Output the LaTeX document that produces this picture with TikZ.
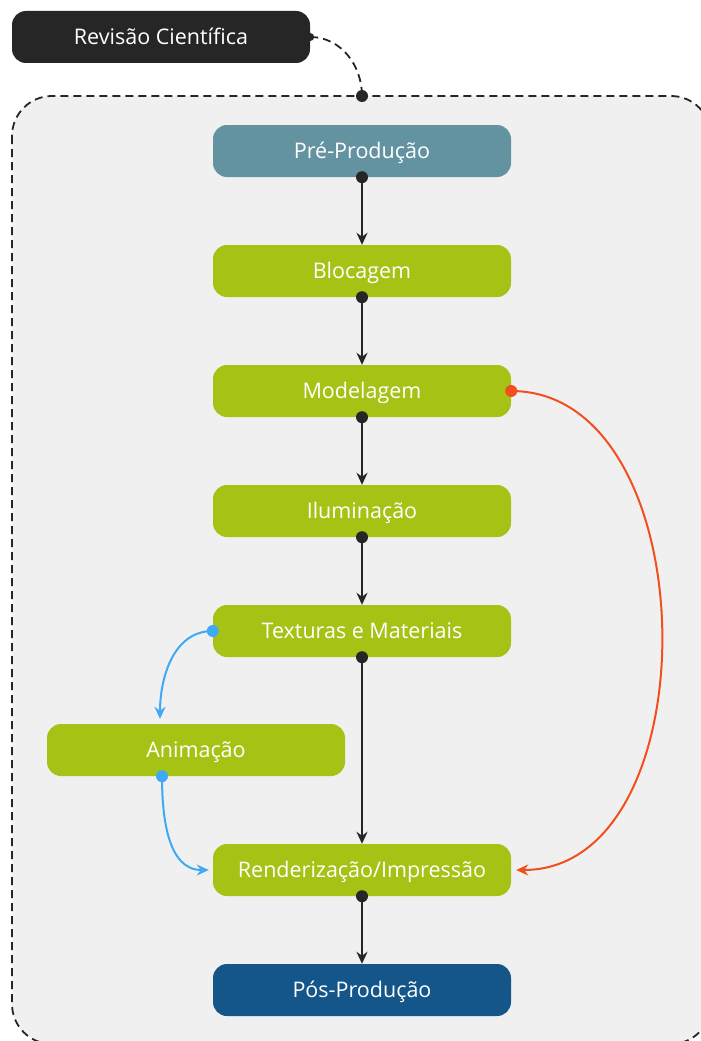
\documentclass[tikz,border=0pt]{standalone}
\usepackage{fontspec}
\setmainfont{Open Sans}
\usepackage{xcolor}
\usepackage{tikz}
\usetikzlibrary{calc,arrows.meta}
\definecolor{panel}{HTML}{F0F0F0}
\definecolor{ink}{HTML}{262626}
\definecolor{preblue}{HTML}{6393A0}
\definecolor{leaf}{HTML}{A6C215}
\definecolor{posblue}{HTML}{15568A}
\definecolor{hot}{HTML}{F24E1E}
\definecolor{sky}{HTML}{3FA9F5}
\tikzset{
  stage/.style={
    minimum width=298pt, minimum height=52pt, inner sep=0pt,
    rounded corners=14pt, text=white,
    text height=19pt, text depth=4pt,
    font=\fontsize{21.5}{24}\selectfont
  },
  flow/.style={draw=ink, line width=2pt, -{Stealth[length=12pt,width=11pt]}},
  loop/.style={line width=2pt, -{Stealth[length=12pt,width=11pt]}},
  frame/.style={draw=ink, line width=1.8pt, dash pattern=on 8pt off 5pt}
}

\begin{document}
\begin{tikzpicture}[x=1pt,y=-1pt]
  \useasboundingbox (0,0) rectangle (701,1041);
  \clip (0,0) rectangle (701,1041);
  \fill[white] (0,0) rectangle (701,1041);
  \draw[frame, fill=panel, rounded corners=40pt] (12,96) rectangle (711,1044);

  \node[stage, fill=ink] (rev) at (161,37) {Revisão Científica};
  \node[stage, fill=preblue] (pre) at (362,151) {Pré-Produção};
  \node[stage, fill=leaf] (bloc) at (362,271) {Blocagem};
  \node[stage, fill=leaf] (model) at (362,391) {Modelagem};
  \node[stage, fill=leaf] (ilum) at (362,511) {Iluminação};
  \node[stage, fill=leaf] (tex) at (362,631) {Texturas e Materiais};
  \node[stage, fill=leaf] (anim) at (196,750) {Animação};
  \node[stage, fill=leaf] (rend) at (362,870) {Renderização/Impressão};
  \node[stage, fill=posblue] (pos) at (362,990) {Pós-Produção};
  \coordinate (entry) at (362,96);

  \draw[frame] (rev.east) to[out=0,in=90] (entry);
  \fill[ink] (rev.east) circle (4pt);
  \fill[ink] (entry) circle (6pt);

  \foreach \a/\b in {pre/bloc,bloc/model,model/ilum,ilum/tex,tex/rend,rend/pos}{
    \draw[flow] (\a.south) -- (\b.north);
    \fill[ink] (\a.south) circle (6pt);
  }

  \draw[loop, draw=hot, fill=none] (model.east) to[out=0,in=0,looseness=1.05] ($(rend.east)+(5,0)$);
  \fill[hot] (model.east) circle (6pt);

  \draw[loop, draw=sky] (tex.west) to[out=180,in=90] ($(anim.north)+(-36,-5)$);
  \fill[sky] (tex.west) circle (6pt);
  \draw[loop, draw=sky] ($(anim.south)+(-34,0)$) to[out=270,in=180] ($(rend.west)+(-4,0)$);
  \fill[sky] ($(anim.south)+(-34,0)$) circle (6pt);
\end{tikzpicture}
\end{document}
